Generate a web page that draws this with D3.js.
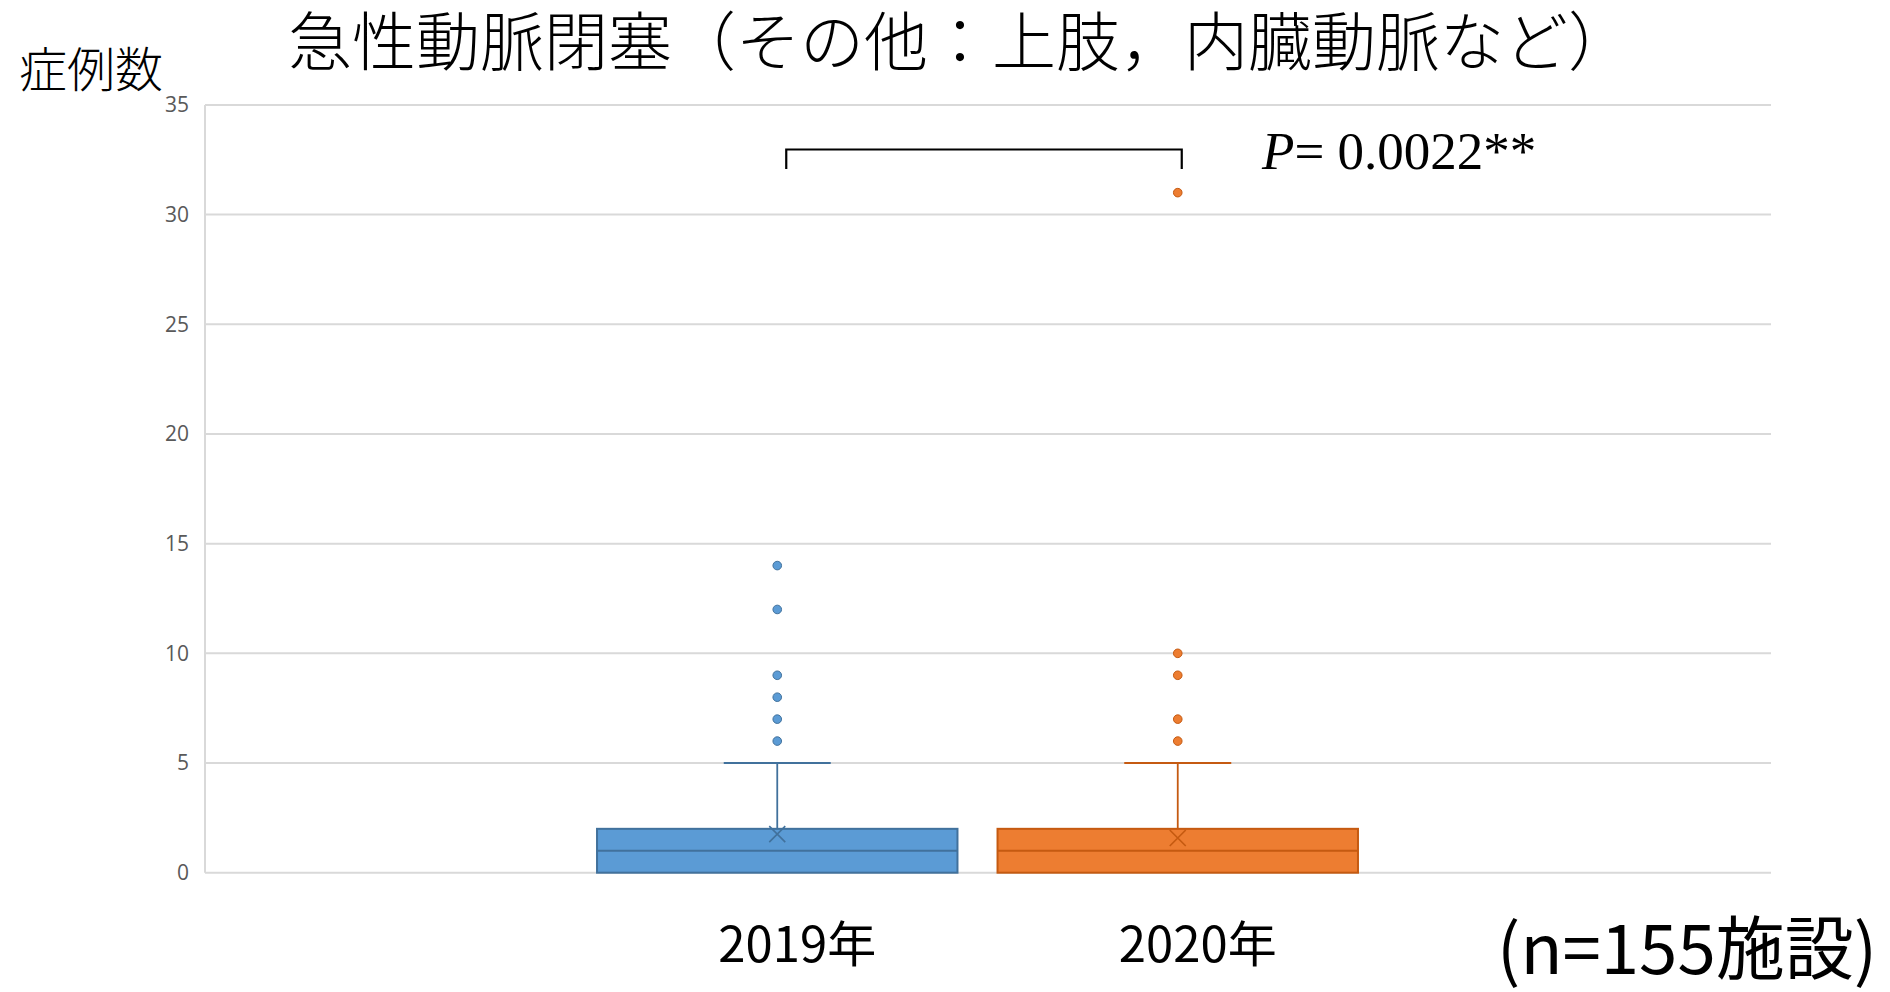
<!DOCTYPE html>
<html><head><meta charset="utf-8">
<script src="https://cdn.jsdelivr.net/npm/d3@7"></script>
<style>
html,body{margin:0;padding:0;background:#fff;}
svg{display:block;}
</style></head>
<body>
<script>
// ---- data ----
const categories = ["2019年", "2020年"];
const q1Values = [0, 0];
const medianValues = [1, 1];
const q3Values = [2, 2];
const whiskerLow = [0, 0];
const whiskerHigh = [5, 5];
const meanValues = [1.76, 1.58];
const outliers2019 = [6, 7, 8, 9, 12, 14];
const outliers2020 = [6, 7, 9, 10, 31];
const yTicks = [0, 5, 10, 15, 20, 25, 30, 35];
const titleText = "急性動脈閉塞（その他：上肢，内臓動脈など）";
const yAxisTitle = "症例数";
const pValueLabel = "= 0.0022**";
const nLabel = "(n=155施設)";
const fills = ["#5B9BD5", "#ED7D31"];
const strokes = ["#41719C", "#C55A11"];

const W = 1890, H = 992;
const svg = d3.select("body").append("svg").attr("width", W).attr("height", H);

const plotL = 205, plotR = 1771, plotT = 104.9, plotB = 872.7;
const y = d3.scaleLinear().domain([0, 35]).range([plotB, plotT]);
const x = d3.scaleBand().domain(categories).range([577, 1378]).paddingInner(0.1).paddingOuter(0.05);

// gridlines
svg.append("g").selectAll("line").data(yTicks).join("line")
  .attr("x1", plotL).attr("x2", plotR)
  .attr("y1", d => y(d)).attr("y2", d => y(d))
  .attr("stroke", "#d9d9d9").attr("stroke-width", 2);
// left axis line
svg.append("line").attr("x1", plotL).attr("x2", plotL).attr("y1", y(35)).attr("y2", y(0))
  .attr("stroke", "#d9d9d9").attr("stroke-width", 2);

// y axis tick labels
const yAxis = d3.axisLeft(y).tickValues(yTicks).tickSize(0).tickPadding(16);
const gy = svg.append("g").attr("transform", `translate(${plotL},0)`).call(yAxis);
gy.select(".domain").remove();
gy.selectAll("text").attr("font-family", "'Open Sans', 'Noto Sans', sans-serif")
  .attr("font-size", 21).attr("fill", "#595959");

// boxes
const data = categories.map((c, i) => ({
  c, i, q1: q1Values[i], med: medianValues[i], q3: q3Values[i],
  lo: whiskerLow[i], hi: whiskerHigh[i], mean: meanValues[i],
  out: i === 0 ? outliers2019 : outliers2020
}));
const bw = x.bandwidth();
const capW = 107;
const g = svg.append("g").selectAll("g").data(data).join("g");
// whisker
g.append("line")
  .attr("x1", d => x(d.c) + bw / 2).attr("x2", d => x(d.c) + bw / 2)
  .attr("y1", d => y(d.q3)).attr("y2", d => y(d.hi))
  .attr("stroke", d => strokes[d.i]).attr("stroke-width", 1.8);
g.append("line")
  .attr("x1", d => x(d.c) + bw / 2 - capW / 2).attr("x2", d => x(d.c) + bw / 2 + capW / 2)
  .attr("y1", d => y(d.hi)).attr("y2", d => y(d.hi))
  .attr("stroke", d => strokes[d.i]).attr("stroke-width", 2);
// box
g.append("rect")
  .attr("x", d => x(d.c)).attr("width", bw)
  .attr("y", d => y(d.q3)).attr("height", d => y(d.q1) - y(d.q3))
  .attr("fill", d => fills[d.i]).attr("stroke", d => strokes[d.i]).attr("stroke-width", 2);
// median
g.append("line")
  .attr("x1", d => x(d.c)).attr("x2", d => x(d.c) + bw)
  .attr("y1", d => y(d.med)).attr("y2", d => y(d.med))
  .attr("stroke", d => strokes[d.i]).attr("stroke-width", 2);
// mean X
const xs = 8;
g.append("path")
  .attr("d", d => {
    const cx = x(d.c) + bw / 2, cy = y(d.mean);
    return `M${cx - xs},${cy - xs}L${cx + xs},${cy + xs}M${cx - xs},${cy + xs}L${cx + xs},${cy - xs}`;
  })
  .attr("stroke", d => strokes[d.i]).attr("stroke-width", 1.6).attr("fill", "none");
// outliers
g.each(function(d) {
  d3.select(this).selectAll("circle").data(d.out).join("circle")
    .attr("cx", x(d.c) + bw / 2).attr("cy", v => y(v)).attr("r", 4.3)
    .attr("fill", fills[d.i]).attr("stroke", strokes[d.i]).attr("stroke-width", 1);
});

// category labels
svg.append("g").selectAll("text").data(categories).join("text")
  .attr("x", d => x(d) + bw / 2 + 20).attr("y", 962)
  .attr("text-anchor", "middle")
  .attr("font-family", "'Noto Sans CJK JP', 'Noto Sans', sans-serif")
  .attr("font-size", 49).attr("fill", "#000").text(d => d);

// title
svg.append("text").attr("x", 960).attr("y", 65).attr("text-anchor", "middle")
  .attr("font-family", "'Noto Sans CJK JP', sans-serif").attr("font-weight", 300)
  .attr("font-size", 64).attr("fill", "#000").text(titleText);

// y axis title
svg.append("text").attr("x", 19).attr("y", 87)
  .attr("font-family", "'Noto Sans CJK JP', sans-serif").attr("font-weight", 300)
  .attr("font-size", 48).attr("fill", "#000").text(yAxisTitle);

// significance bracket
const bx1 = x(categories[0]) + bw / 2 + 9, bx2 = x(categories[1]) + bw / 2 + 4;
svg.append("path")
  .attr("d", `M${bx1},169L${bx1},149.5L${bx2},149.5L${bx2},169`)
  .attr("fill", "none").attr("stroke", "#000").attr("stroke-width", 2.2);

// p value
const pt = svg.append("text").attr("x", 1262).attr("y", 169)
  .attr("font-family", "'Liberation Serif', 'DejaVu Serif', serif")
  .attr("font-size", 53).attr("fill", "#000");
pt.append("tspan").attr("font-style", "italic").text("P");
pt.append("tspan").text(pValueLabel);

// n label
svg.append("text").attr("x", 1877).attr("y", 974).attr("text-anchor", "end")
  .attr("font-family", "'Noto Sans CJK JP', 'Noto Sans', sans-serif")
  .attr("font-size", 69).attr("fill", "#000").text(nLabel);
</script>
</body></html>
